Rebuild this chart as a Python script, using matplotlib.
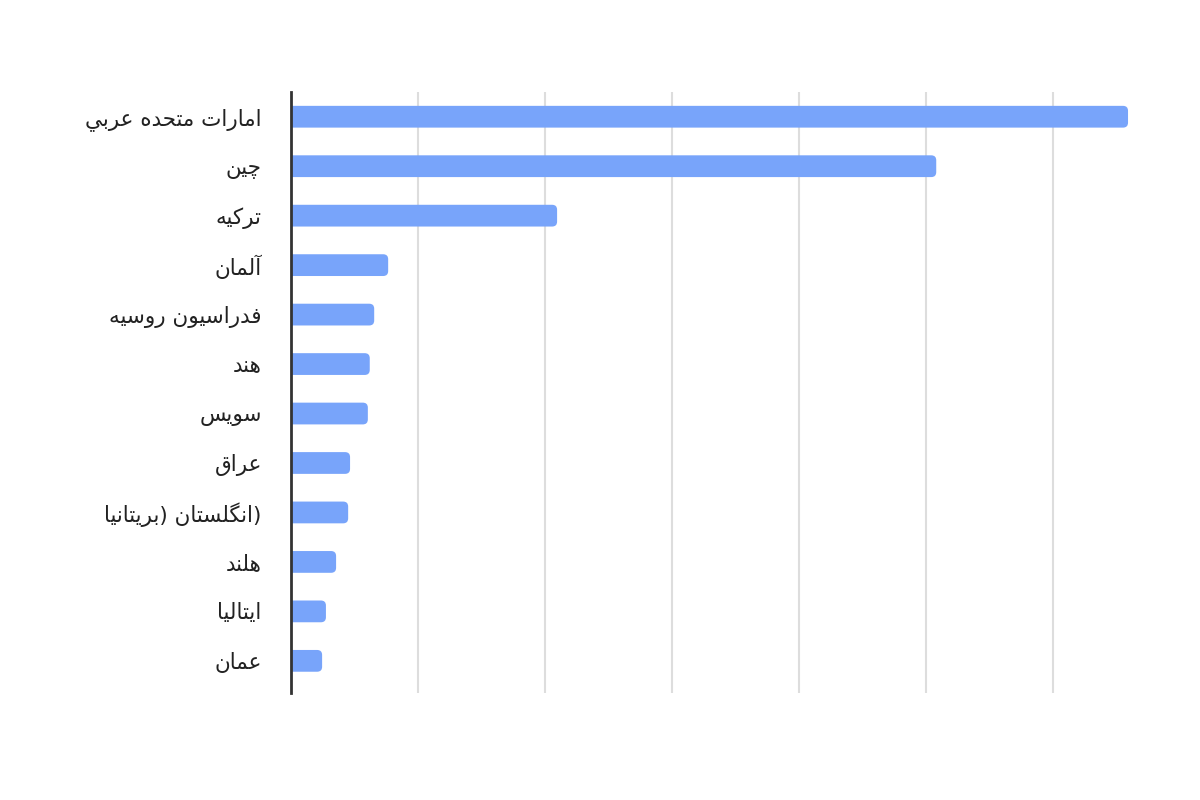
import matplotlib.pyplot as plt
from matplotlib.patches import FancyBboxPatch

countries = ['امارات متحده عربي', 'چین', 'ترکیه', 'آلمان', 'فدراسیون روسیه',
             'هند', 'سویس', 'عراق', 'انگلستان (بریتانیا)', 'هلند', 'ایتالیا', 'عمان']
values = [13.18, 10.16, 4.19, 1.53, 1.31, 1.24, 1.21, 0.93, 0.90, 0.71, 0.55, 0.49]
grid_ticks = [0, 2, 4, 6, 8, 10, 12]

# presentation forms: isolated, final, initial, medial (None = right-joining only)
FORMS = {
    'ا': (0xFE8D, 0xFE8E, None, None),
    'آ': (0xFE81, 0xFE82, None, None),
    'ب': (0xFE8F, 0xFE90, 0xFE91, 0xFE92),
    'ت': (0xFE95, 0xFE96, 0xFE97, 0xFE98),
    'ح': (0xFEA1, 0xFEA2, 0xFEA3, 0xFEA4),
    'د': (0xFEA9, 0xFEAA, None, None),
    'ر': (0xFEAD, 0xFEAE, None, None),
    'س': (0xFEB1, 0xFEB2, 0xFEB3, 0xFEB4),
    'ع': (0xFEC9, 0xFECA, 0xFECB, 0xFECC),
    'ف': (0xFED1, 0xFED2, 0xFED3, 0xFED4),
    'ق': (0xFED5, 0xFED6, 0xFED7, 0xFED8),
    'ل': (0xFEDD, 0xFEDE, 0xFEDF, 0xFEE0),
    'م': (0xFEE1, 0xFEE2, 0xFEE3, 0xFEE4),
    'ن': (0xFEE5, 0xFEE6, 0xFEE7, 0xFEE8),
    'ه': (0xFEE9, 0xFEEA, 0xFEEB, 0xFEEC),
    'و': (0xFEED, 0xFEEE, None, None),
    'ي': (0xFEF1, 0xFEF2, 0xFEF3, 0xFEF4),
    'ی': (0xFBFC, 0xFBFD, 0xFBFE, 0xFBFF),
    'ک': (0xFB8E, 0xFB8F, 0xFB90, 0xFB91),
    'گ': (0xFB92, 0xFB93, 0xFB94, 0xFB95),
    'چ': (0xFB7A, 0xFB7B, 0xFB7C, 0xFB7D),
}
MIRROR = {'(': ')', ')': '('}


def dual(c):
    return c in FORMS and FORMS[c][2] is not None


def shape(s):
    # trailing neutrals stay on the right, as in a left-to-right line
    tail = ''
    while s and s[-1] in '()':
        tail = s[-1] + tail
        s = s[:-1]
    out = []
    for i, c in enumerate(s):
        if c not in FORMS:
            out.append(MIRROR.get(c, c))
            continue
        prev_join = i > 0 and dual(s[i - 1])
        next_join = dual(c) and i + 1 < len(s) and s[i + 1] in FORMS
        iso, fin, ini, med = FORMS[c]
        if prev_join and next_join:
            code = med
        elif prev_join:
            code = fin
        elif next_join:
            code = ini
        else:
            code = iso
        out.append(chr(code))
    return ''.join(out)[::-1] + tail


fig = plt.figure(figsize=(12, 8), dpi=100)
ax = fig.add_axes([291 / 1200, 107 / 800, 851 / 1200, 601 / 800])

y_pos = list(range(len(countries)))
bars = ax.barh(y_pos, values, height=0.44, color='#78a4fa')

# round the right end of each bar
px_x = 2 / 127
px_y = 1 / 49.45
r = 5 * px_x
for rect in bars:
    rect.set_visible(False)
    patch = FancyBboxPatch((rect.get_x() - r, rect.get_y()), rect.get_width() + r,
                           rect.get_height(),
                           boxstyle='round,pad=0,rounding_size=%f' % r,
                           mutation_aspect=px_y / px_x,
                           facecolor='#78a4fa', edgecolor='none', zorder=2)
    ax.add_patch(patch)

ax.set_xlim(0, 13.4)
ax.set_ylim(11.65, -0.5)
ax.set_xticks(grid_ticks)
ax.set_xticklabels([])
ax.set_yticks(y_pos)
ax.set_yticklabels([shape(c) for c in countries], fontsize=15.5, color='#222222',
                   family='DejaVu Sans')
ax.tick_params(axis='both', length=0)
ax.tick_params(axis='y', pad=21)
ax.grid(axis='x', color='#dddddd', linewidth=1.5)
ax.set_axisbelow(True)

for side in ['top', 'right', 'bottom']:
    ax.spines[side].set_visible(False)
ax.spines['left'].set_color('#333333')
ax.spines['left'].set_linewidth(2)
ax.spines['left'].set_zorder(3)

plt.savefig('out.png', dpi=100)
